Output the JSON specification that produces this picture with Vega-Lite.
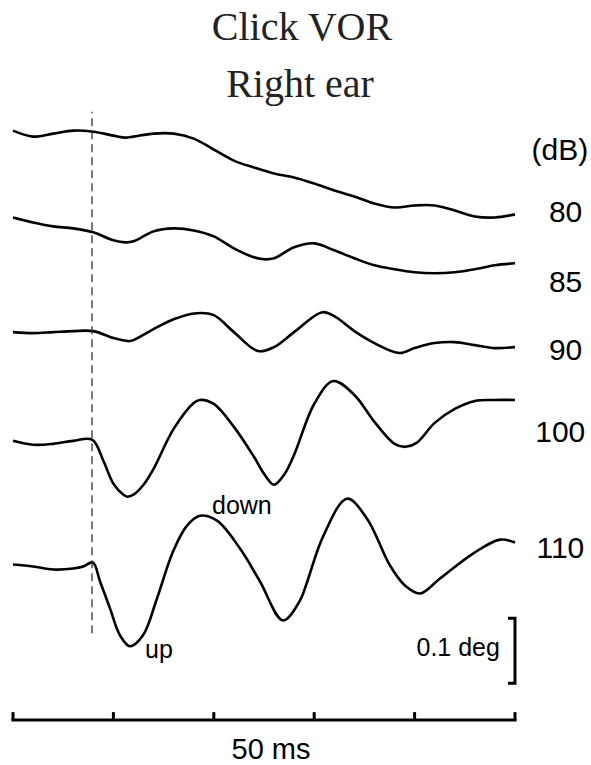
{
  "$schema": "https://vega.github.io/schema/vega-lite/v6.json",
  "width": 591,
  "height": 765,
  "autosize": {"type": "fit", "contains": "padding"},
  "padding": 0,
  "background": "white",
  "config": {"view": {"stroke": null}},
  "datasets": {
    "traces": [
      {"db": "80", "t": 0, "v": 0.9754}, {"db": "80", "t": 2, "v": 0.9662}, {"db": "80", "t": 4, "v": 0.9708}, {"db": "80", "t": 6, "v": 0.9754}, {"db": "80", "t": 8, "v": 0.9738}, {"db": "80", "t": 10, "v": 0.9677}, {"db": "80", "t": 11.2, "v": 0.9646}, {"db": "80", "t": 12, "v": 0.9662}, {"db": "80", "t": 14, "v": 0.9708}, {"db": "80", "t": 16, "v": 0.9708}, {"db": "80", "t": 18, "v": 0.9631}, {"db": "80", "t": 20, "v": 0.9462}, {"db": "80", "t": 22, "v": 0.9292}, {"db": "80", "t": 24, "v": 0.9185}, {"db": "80", "t": 26, "v": 0.9092}, {"db": "80", "t": 28, "v": 0.9031}, {"db": "80", "t": 30, "v": 0.8938}, {"db": "80", "t": 32, "v": 0.8831}, {"db": "80", "t": 34, "v": 0.8738}, {"db": "80", "t": 36, "v": 0.8631}, {"db": "80", "t": 38, "v": 0.8569}, {"db": "80", "t": 40, "v": 0.86}, {"db": "80", "t": 42, "v": 0.86}, {"db": "80", "t": 44, "v": 0.8523}, {"db": "80", "t": 46, "v": 0.8431}, {"db": "80", "t": 48, "v": 0.8415}, {"db": "80", "t": 50, "v": 0.8462},
      {"db": "85", "t": 0, "v": 0.8415}, {"db": "85", "t": 2, "v": 0.8338}, {"db": "85", "t": 4, "v": 0.8277}, {"db": "85", "t": 6, "v": 0.8246}, {"db": "85", "t": 8, "v": 0.8185}, {"db": "85", "t": 10, "v": 0.8062}, {"db": "85", "t": 11.2, "v": 0.8031}, {"db": "85", "t": 12, "v": 0.8046}, {"db": "85", "t": 14, "v": 0.82}, {"db": "85", "t": 16, "v": 0.8246}, {"db": "85", "t": 18, "v": 0.8215}, {"db": "85", "t": 20, "v": 0.8123}, {"db": "85", "t": 22, "v": 0.7938}, {"db": "85", "t": 24, "v": 0.78}, {"db": "85", "t": 25, "v": 0.7769}, {"db": "85", "t": 26, "v": 0.7785}, {"db": "85", "t": 28, "v": 0.7954}, {"db": "85", "t": 30, "v": 0.8015}, {"db": "85", "t": 32, "v": 0.7908}, {"db": "85", "t": 34, "v": 0.7785}, {"db": "85", "t": 36, "v": 0.7677}, {"db": "85", "t": 38, "v": 0.7615}, {"db": "85", "t": 40, "v": 0.7569}, {"db": "85", "t": 42, "v": 0.7554}, {"db": "85", "t": 44, "v": 0.7569}, {"db": "85", "t": 46, "v": 0.7615}, {"db": "85", "t": 48, "v": 0.7677}, {"db": "85", "t": 50, "v": 0.7708},
      {"db": "90", "t": 0, "v": 0.6646}, {"db": "90", "t": 2, "v": 0.6631}, {"db": "90", "t": 4, "v": 0.6646}, {"db": "90", "t": 6, "v": 0.6662}, {"db": "90", "t": 8, "v": 0.6662}, {"db": "90", "t": 10, "v": 0.6554}, {"db": "90", "t": 11.5, "v": 0.6508}, {"db": "90", "t": 12, "v": 0.6523}, {"db": "90", "t": 14, "v": 0.6692}, {"db": "90", "t": 16, "v": 0.6846}, {"db": "90", "t": 18.3, "v": 0.6938}, {"db": "90", "t": 20, "v": 0.6908}, {"db": "90", "t": 22, "v": 0.6646}, {"db": "90", "t": 24.4, "v": 0.6354}, {"db": "90", "t": 26, "v": 0.6415}, {"db": "90", "t": 28, "v": 0.6646}, {"db": "90", "t": 30.8, "v": 0.6954}, {"db": "90", "t": 32, "v": 0.6892}, {"db": "90", "t": 34, "v": 0.6662}, {"db": "90", "t": 36, "v": 0.6477}, {"db": "90", "t": 38.5, "v": 0.6323}, {"db": "90", "t": 40, "v": 0.64}, {"db": "90", "t": 42, "v": 0.6477}, {"db": "90", "t": 44, "v": 0.6492}, {"db": "90", "t": 46, "v": 0.6446}, {"db": "90", "t": 48, "v": 0.64}, {"db": "90", "t": 50, "v": 0.6415},
      {"db": "100", "t": 0, "v": 0.4969}, {"db": "100", "t": 2, "v": 0.4908}, {"db": "100", "t": 4, "v": 0.4923}, {"db": "100", "t": 6, "v": 0.4969}, {"db": "100", "t": 7.9, "v": 0.4985}, {"db": "100", "t": 9, "v": 0.4662}, {"db": "100", "t": 10, "v": 0.4308}, {"db": "100", "t": 11, "v": 0.4138}, {"db": "100", "t": 11.4, "v": 0.4108}, {"db": "100", "t": 12, "v": 0.4138}, {"db": "100", "t": 13, "v": 0.4292}, {"db": "100", "t": 14, "v": 0.4538}, {"db": "100", "t": 16, "v": 0.5154}, {"db": "100", "t": 18, "v": 0.5554}, {"db": "100", "t": 18.6, "v": 0.56}, {"db": "100", "t": 20, "v": 0.5538}, {"db": "100", "t": 22, "v": 0.5185}, {"db": "100", "t": 24, "v": 0.4723}, {"db": "100", "t": 25, "v": 0.4462}, {"db": "100", "t": 26, "v": 0.4292}, {"db": "100", "t": 27, "v": 0.4446}, {"db": "100", "t": 28, "v": 0.4754}, {"db": "100", "t": 30, "v": 0.5538}, {"db": "100", "t": 31.9, "v": 0.5892}, {"db": "100", "t": 34, "v": 0.5677}, {"db": "100", "t": 36, "v": 0.5262}, {"db": "100", "t": 38, "v": 0.4923}, {"db": "100", "t": 39.1, "v": 0.4877}, {"db": "100", "t": 40.2, "v": 0.4938}, {"db": "100", "t": 42, "v": 0.5246}, {"db": "100", "t": 44, "v": 0.5462}, {"db": "100", "t": 46, "v": 0.5585}, {"db": "100", "t": 48, "v": 0.56}, {"db": "100", "t": 50, "v": 0.56},
      {"db": "110", "t": 0, "v": 0.3062}, {"db": "110", "t": 2, "v": 0.3031}, {"db": "110", "t": 4, "v": 0.2985}, {"db": "110", "t": 6, "v": 0.3}, {"db": "110", "t": 7, "v": 0.3031}, {"db": "110", "t": 7.95, "v": 0.3092}, {"db": "110", "t": 8.67, "v": 0.28}, {"db": "110", "t": 9.66, "v": 0.2385}, {"db": "110", "t": 10.66, "v": 0.1969}, {"db": "110", "t": 11.65, "v": 0.18}, {"db": "110", "t": 12.95, "v": 0.1969}, {"db": "110", "t": 14.34, "v": 0.2538}, {"db": "110", "t": 15.94, "v": 0.3262}, {"db": "110", "t": 17.33, "v": 0.3662}, {"db": "110", "t": 18.63, "v": 0.3815}, {"db": "110", "t": 20.32, "v": 0.3738}, {"db": "110", "t": 22.61, "v": 0.3308}, {"db": "110", "t": 24.6, "v": 0.28}, {"db": "110", "t": 26.89, "v": 0.22}, {"db": "110", "t": 28.59, "v": 0.2508}, {"db": "110", "t": 29.28, "v": 0.2785}, {"db": "110", "t": 30.88, "v": 0.3492}, {"db": "110", "t": 33.27, "v": 0.4077}, {"db": "110", "t": 35.26, "v": 0.3769}, {"db": "110", "t": 37.55, "v": 0.3046}, {"db": "110", "t": 39.04, "v": 0.2738}, {"db": "110", "t": 40.54, "v": 0.2615}, {"db": "110", "t": 42.53, "v": 0.2846}, {"db": "110", "t": 45.82, "v": 0.3231}, {"db": "110", "t": 48.51, "v": 0.3446}, {"db": "110", "t": 50, "v": 0.34}
    ],
    "onset": [{"t": 7.87, "lo": 0.2, "hi": 1.0046}],
    "timebar": [{"start": 0, "end": 50, "v": 0.0662}],
    "ticks": [{"t": 0}, {"t": 10}, {"t": 20}, {"t": 30}, {"t": 40}, {"t": 50}],
    "scalebar": [
      {"t": 49.3, "v": 0.2231, "o": 1},
      {"t": 50, "v": 0.2231, "o": 2},
      {"t": 50, "v": 0.1231, "o": 3},
      {"t": 49.3, "v": 0.1231, "o": 4}
    ],
    "titles": [
      {"text": "Click VOR", "t": 28.78, "v": 1.1154},
      {"text": "Right ear", "t": 28.59, "v": 1.0277}
    ],
    "levels": [
      {"text": "(dB)", "t": 57.3, "v": 0.9308},
      {"text": "80", "t": 56.7, "v": 0.8338},
      {"text": "85", "t": 56.7, "v": 0.7262},
      {"text": "90", "t": 56.7, "v": 0.6215},
      {"text": "100", "t": 57.0, "v": 0.4954},
      {"text": "110", "t": 56.9, "v": 0.3169}
    ],
    "notes": [
      {"text": "down", "t": 19.82, "v": 0.3846},
      {"text": "up", "t": 13.15, "v": 0.1615}
    ],
    "degLabel": [{"text": "0.1 deg", "t": 48.5, "v": 0.1646}],
    "msLabel": [{"text": "50 ms", "t": 25.7, "v": 0.0062}]
  },
  "layer": [
    {
      "data": {"name": "traces"},
      "mark": {"type": "line", "color": "black", "strokeWidth": 2.6, "interpolate": "catmull-rom"},
      "encoding": {
        "x": {"field": "t", "type": "quantitative", "scale": {"domain": [-1.295, 57.57], "nice": false, "zero": false}, "axis": null},
        "y": {"field": "v", "type": "quantitative", "scale": {"domain": [0, 1.1769], "nice": false, "zero": false}, "axis": null},
        "detail": {"field": "db"}
      }
    },
    {
      "data": {"name": "onset"},
      "mark": {"type": "rule", "color": "#333333", "strokeWidth": 1.3, "strokeDash": [8, 5]},
      "encoding": {
        "x": {"field": "t", "type": "quantitative", "axis": null},
        "y": {"field": "lo", "type": "quantitative", "axis": null},
        "y2": {"field": "hi"}
      }
    },
    {
      "data": {"name": "timebar"},
      "mark": {"type": "rule", "color": "black", "strokeWidth": 3, "strokeCap": "square"},
      "encoding": {
        "x": {"field": "start", "type": "quantitative", "axis": null},
        "x2": {"field": "end"},
        "y": {"field": "v", "type": "quantitative", "axis": null}
      }
    },
    {
      "data": {"name": "ticks"},
      "mark": {"type": "rule", "color": "black", "strokeWidth": 3},
      "encoding": {
        "x": {"field": "t", "type": "quantitative", "axis": null},
        "y": {"datum": 0.0662, "type": "quantitative", "axis": null},
        "y2": {"datum": 0.0785}
      }
    },
    {
      "data": {"name": "scalebar"},
      "mark": {"type": "line", "color": "black", "strokeWidth": 3, "strokeJoin": "miter", "strokeCap": "butt"},
      "encoding": {
        "x": {"field": "t", "type": "quantitative", "axis": null},
        "y": {"field": "v", "type": "quantitative", "axis": null},
        "order": {"field": "o"}
      }
    },
    {
      "data": {"name": "titles"},
      "mark": {"type": "text", "font": "Liberation Serif", "fontSize": 40, "align": "center", "baseline": "alphabetic", "color": "#222222"},
      "encoding": {
        "x": {"field": "t", "type": "quantitative", "axis": null},
        "y": {"field": "v", "type": "quantitative", "axis": null},
        "text": {"field": "text"}
      }
    },
    {
      "data": {"name": "levels"},
      "mark": {"type": "text", "font": "Liberation Sans", "fontSize": 30, "align": "right", "baseline": "alphabetic", "color": "black"},
      "encoding": {
        "x": {"field": "t", "type": "quantitative", "axis": null},
        "y": {"field": "v", "type": "quantitative", "axis": null},
        "text": {"field": "text"}
      }
    },
    {
      "data": {"name": "notes"},
      "mark": {"type": "text", "font": "Liberation Sans", "fontSize": 25, "align": "left", "baseline": "alphabetic", "color": "black"},
      "encoding": {
        "x": {"field": "t", "type": "quantitative", "axis": null},
        "y": {"field": "v", "type": "quantitative", "axis": null},
        "text": {"field": "text"}
      }
    },
    {
      "data": {"name": "degLabel"},
      "mark": {"type": "text", "font": "Liberation Sans", "fontSize": 25, "align": "right", "baseline": "alphabetic", "color": "black"},
      "encoding": {
        "x": {"field": "t", "type": "quantitative", "axis": null},
        "y": {"field": "v", "type": "quantitative", "axis": null},
        "text": {"field": "text"}
      }
    },
    {
      "data": {"name": "msLabel"},
      "mark": {"type": "text", "font": "Liberation Sans", "fontSize": 29, "align": "center", "baseline": "alphabetic", "color": "black"},
      "encoding": {
        "x": {"field": "t", "type": "quantitative", "axis": null},
        "y": {"field": "v", "type": "quantitative", "axis": null},
        "text": {"field": "text"}
      }
    }
  ]
}
